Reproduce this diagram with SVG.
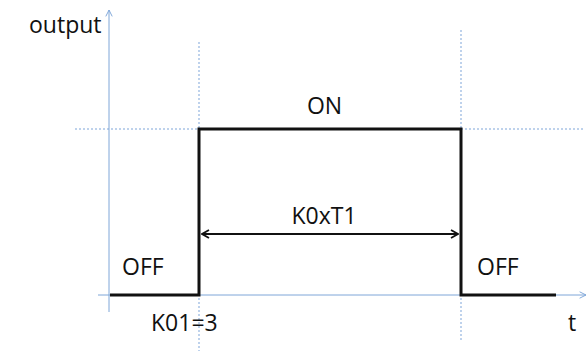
<svg xmlns="http://www.w3.org/2000/svg" width="587" height="351" viewBox="0 0 587 351">
<style>
.axis{stroke:#7ea6d8;stroke-width:1;fill:none}
.guide{stroke:#a9c3e6;stroke-width:1.5;stroke-dasharray:2 2;fill:none}
.sig{stroke:#111;stroke-width:3;fill:none}
.dim{stroke:#111;stroke-width:1.8;fill:none}
text{font-family:"Open Sans","Noto Sans","Liberation Sans",sans-serif;font-size:23px;fill:#111}
</style>
<defs>
<marker id="ax" viewBox="0 0 10 10" refX="9" refY="5" markerWidth="8" markerHeight="8" orient="auto" markerUnits="userSpaceOnUse">
<path d="M1,1 L9,5 L1,9" fill="none" stroke="#7ea6d8" stroke-width="1.2"/>
</marker>
<marker id="dh" viewBox="0 0 10 10" refX="9" refY="5" markerWidth="10" markerHeight="10" orient="auto-start-reverse" markerUnits="userSpaceOnUse">
<path d="M2,1 L9,5 L2,9" fill="none" stroke="#111" stroke-width="1.8"/>
</marker>
</defs>
<g id="connectors">
<line class="guide" x1="199" y1="42" x2="199" y2="351"/>
<line class="guide" x1="461" y1="30" x2="461" y2="340"/>
<line class="guide" x1="75" y1="129" x2="199" y2="129"/>
<line class="guide" x1="461" y1="129" x2="585" y2="129"/>
<line class="axis" x1="109" y1="312" x2="109" y2="10" marker-end="url(#ax)"/>
<line class="axis" x1="98" y1="295" x2="586" y2="295" marker-end="url(#ax)"/>
<polyline id="signal" class="sig" points="110,295 199,295 199,129 461,129 461,295 556,295"/>
<line id="duration" class="dim" x1="202" y1="234" x2="458" y2="234" marker-start="url(#dh)" marker-end="url(#dh)"/>
</g>
<g id="label-output"><text x="29" y="33">output</text></g>
<g id="label-on"><text x="324.5" y="114" text-anchor="middle">ON</text></g>
<g id="label-k0xt1"><text x="324" y="224" text-anchor="middle">K0xT1</text></g>
<g id="label-off1"><text x="122" y="275">OFF</text></g>
<g id="label-off2"><text x="477" y="275">OFF</text></g>
<g id="label-k01"><text x="151" y="331">K01=3</text></g>
<g id="label-t"><text x="568" y="331">t</text></g>
</svg>
